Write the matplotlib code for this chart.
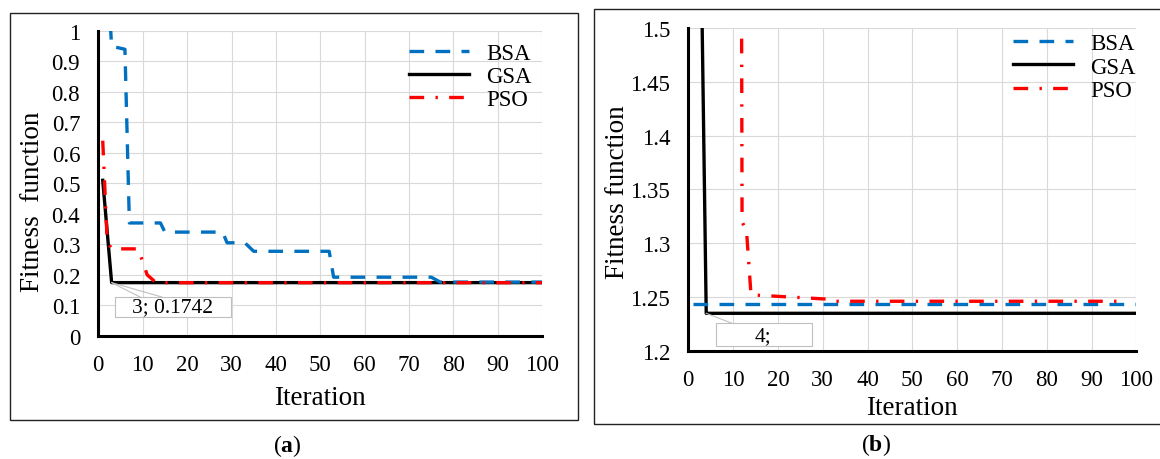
import matplotlib.pyplot as plt
from matplotlib.patches import Rectangle

plt.rcParams['font.family'] = ['Liberation Serif', 'DejaVu Serif']
plt.rcParams['mathtext.fontset'] = 'custom'
plt.rcParams['mathtext.bf'] = 'Liberation Serif:bold'
plt.rcParams['mathtext.rm'] = 'Liberation Serif'

# convergence curves, case (a)
it_bsa_a = [2, 3, 6, 7, 14, 15, 28, 29, 33, 35, 52, 53, 75, 77, 100]
fit_bsa_a = [1.20, 0.95, 0.94, 0.37, 0.37, 0.34, 0.34, 0.305, 0.305, 0.277, 0.277, 0.192, 0.192, 0.176, 0.176]
it_gsa_a = [1, 3, 100]
fit_gsa_a = [0.51, 0.1742, 0.1742]
it_pso_a = [1, 2, 3, 9, 11, 13, 100]
fit_pso_a = [0.64, 0.31, 0.285, 0.285, 0.20, 0.174, 0.174]

# convergence curves, case (b)
it_bsa_b = [1, 100]
fit_bsa_b = [1.2435, 1.2435]
it_gsa_b = [3, 4, 100]
fit_gsa_b = [1.53, 1.2348, 1.2348]
it_pso_b = [11, 12, 13, 14, 31, 32, 98]
fit_pso_b = [3.1, 1.32, 1.311, 1.252, 1.248, 1.246, 1.246]

xticks = list(range(0, 101, 10))
yticks_a = [0, 0.1, 0.2, 0.3, 0.4, 0.5, 0.6, 0.7, 0.8, 0.9, 1.0]
ylabels_a = ['0', '0.1', '0.2', '0.3', '0.4', '0.5', '0.6', '0.7', '0.8', '0.9', '1']
yticks_b = [1.2, 1.25, 1.3, 1.35, 1.4, 1.45, 1.5]
ylabels_b = ['1.2', '1.25', '1.3', '1.35', '1.4', '1.45', '1.5']

BLUE = '#0070c0'
RED = '#ff0000'
W, H = 1160, 460


def style_axes(ax, yticks, ylabels, ylim):
    ax.set_xlim(0, 100)
    ax.set_ylim(*ylim)
    ax.set_xticks(xticks)
    ax.set_xticklabels([str(t) for t in xticks])
    ax.set_yticks(yticks)
    ax.set_yticklabels(ylabels)
    ax.tick_params(length=0, pad=13, labelsize=16.5)
    ax.grid(True, color='#d9d9d9', lw=0.8)
    ax.set_axisbelow(True)
    for s in ['top', 'right']:
        ax.spines[s].set_visible(False)
    for s in ['left', 'bottom']:
        ax.spines[s].set_linewidth(2.2)
        ax.spines[s].set_color('black')


def draw_curves(ax, bsa, gsa, pso, anchor):
    ax.plot(*gsa, color='black', lw=2.4, zorder=3, label='GSA')
    ax.plot(*bsa, color=BLUE, lw=2.4, dashes=(4.4, 3.4), zorder=4, label='BSA')
    ax.plot(*pso, color=RED, lw=2.4, dashes=(4.4, 3.4, 0.7, 3.4), zorder=5, label='PSO')
    h, l = ax.get_legend_handles_labels()
    order = [1, 0, 2]
    ax.legend([h[i] for i in order], [l[i] for i in order], loc='upper left',
              bbox_to_anchor=anchor, frameon=False, fontsize=16.5,
              handlelength=2.6, handletextpad=0.75, labelspacing=0.1,
              borderpad=0, borderaxespad=0)


fig = plt.figure(figsize=(11.6, 4.6), dpi=100)

# outer frames around both panels
fig.patches.append(Rectangle((10 / W, 1 - 421 / H), 568 / W, 407 / H, fill=False,
                             edgecolor='#222222', lw=1, transform=fig.transFigure))
fig.patches.append(Rectangle((594 / W, 1 - 425 / H), 580 / W, 415 / H, fill=False,
                             edgecolor='#222222', lw=1, transform=fig.transFigure))

ax1 = fig.add_axes([98.3 / W, 1 - 336.7 / H, 444 / W, 304.7 / H])
style_axes(ax1, yticks_a, ylabels_a, (0, 1))
draw_curves(ax1, (it_bsa_a, fit_bsa_a), (it_gsa_a, fit_gsa_a), (it_pso_a, fit_pso_a), (0.70, 0.962))
ax1.set_xlabel('Iteration', fontsize=19.5)
ax1.xaxis.set_label_coords(0.5, -0.224)
ax1.xaxis.label.set_va('baseline')
ax1.set_ylabel('Fitness  function', fontsize=19.5)
ax1.yaxis.set_label_coords(-0.149, 0.443)
ax1.yaxis.label.set_va('center')

# data label for the GSA minimum
ax1.add_patch(Rectangle((3.8, 0.061), 26.1, 0.066, facecolor='white',
                        edgecolor='#bfbfbf', lw=0.8, zorder=6))
ax1.plot([it_gsa_a[1], 9.4], [fit_gsa_a[1], 0.127], color='#bfbfbf', lw=0.8, zorder=6)
ax1.plot([it_gsa_a[1], 14.3], [fit_gsa_a[1], 0.127], color='#bfbfbf', lw=0.8, zorder=6)
ax1.text(16.8, 0.094, f'{it_gsa_a[1]}; {fit_gsa_a[1]:.4f}', fontsize=15.5,
         ha='center', va='center', zorder=7)

ax2 = fig.add_axes([688.3 / W, 1 - 351.7 / H, 448 / W, 322.4 / H])
style_axes(ax2, yticks_b, ylabels_b, (1.2, 1.5))
draw_curves(ax2, (it_bsa_b, fit_bsa_b), (it_gsa_b, fit_gsa_b), (it_pso_b, fit_pso_b), (0.725, 0.985))
ax2.set_xlabel('Iteration', fontsize=19.5)
ax2.xaxis.set_label_coords(0.5, -0.196)
ax2.xaxis.label.set_va('baseline')
ax2.set_ylabel('Fitness function', fontsize=19.5)
ax2.yaxis.set_label_coords(-0.159, 0.495)
ax2.yaxis.label.set_va('center')

ax2.add_patch(Rectangle((6.1, 1.2047), 21.6, 0.0208, facecolor='white',
                        edgecolor='#bfbfbf', lw=0.8, zorder=6))
ax2.plot([it_gsa_b[1], 9.75], [fit_gsa_b[1], 1.2255], color='#bfbfbf', lw=0.8, zorder=6)
ax2.text(16.6, 1.214, f'{it_gsa_b[1]};', fontsize=15.5, ha='center', va='center', zorder=7)

# panel captions: regular parentheses, bold letter
fig.text(287 / W, 1 - 446 / H, r'($\mathbf{a}$)', fontsize=17, ha='center', va='center')
fig.text(876 / W, 1 - 445 / H, r'($\mathbf{b}$)', fontsize=17, ha='center', va='center')

fig.savefig('out.png', dpi=100)
